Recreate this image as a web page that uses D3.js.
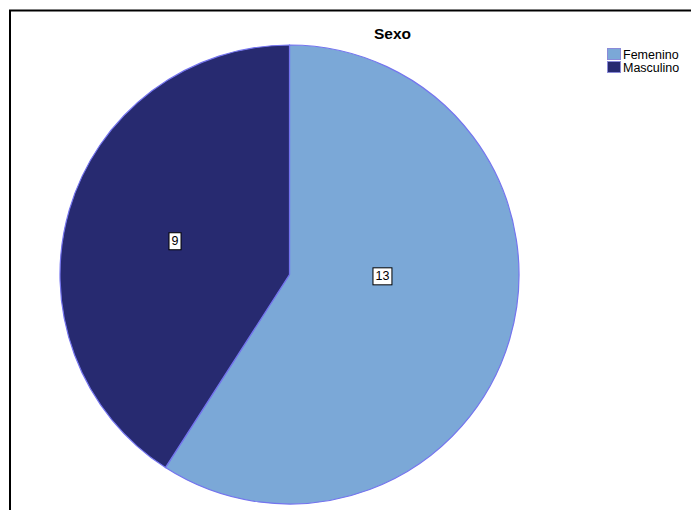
<!DOCTYPE html>
<html>
<head>
<meta charset="utf-8">
<script src="https://cdn.jsdelivr.net/npm/d3@7"></script>
<style>
  html, body { margin: 0; padding: 0; background: #fff; }
  svg { display: block; font-family: "Liberation Sans", Arial, sans-serif; }
</style>
</head>
<body>
<svg id="chart" width="691" height="510"></svg>
<script>
// Sexo: frequency counts per category
const categories = ["Femenino", "Masculino"];
const counts = [13, 9];
const sliceColors = ["#7ba8d7", "#272a70"];
const chartTitle = "Sexo";

const svg = d3.select("#chart");
const W = 691, H = 510;

// outer frame (top and left edges visible, rest runs off the canvas)
svg.append("rect")
  .attr("x", 10).attr("y", 10.5)
  .attr("width", W + 20).attr("height", H + 20)
  .attr("fill", "none").attr("stroke", "#000").attr("stroke-width", 2);

svg.append("text")
  .attr("x", 392.5).attr("y", 38.5)
  .attr("text-anchor", "middle")
  .attr("font-size", 15.5).attr("font-weight", "bold")
  .text(chartTitle);

const cx = 289.5, cy = 274.5, R = 229.5;
const color = d3.scaleOrdinal().domain(categories).range(sliceColors);

const pie = d3.pie().sort(null).value(d => d.value);
const data = categories.map((c, i) => ({ name: c, value: counts[i] }));
const arcs = pie(data);
const arc = d3.arc().innerRadius(0).outerRadius(R);

const g = svg.append("g").attr("transform", `translate(${cx},${cy})`);

g.selectAll("path.slice")
  .data(arcs)
  .join("path")
  .attr("class", "slice")
  .attr("d", arc)
  .attr("fill", d => color(d.data.name))
  .attr("stroke", "#7474ee")
  .attr("stroke-width", 1.2);

// value labels: placed along the slice at a fraction of the radius
const labelPlacement = [
  { angleShift: -0.27, frac: 0.405 },
  { angleShift: 0, frac: 0.52 }
];
const labels = g.selectAll("g.lbl")
  .data(arcs)
  .join("g")
  .attr("class", "lbl")
  .attr("transform", (d, i) => {
    const a = (d.startAngle + d.endAngle) / 2 + labelPlacement[i].angleShift;
    const r = R * labelPlacement[i].frac;
    return `translate(${r * Math.sin(a)},${-r * Math.cos(a)})`;
  });

labels.each(function(d) {
  const el = d3.select(this);
  const t = el.append("text")
    .attr("text-anchor", "middle")
    .attr("dy", "0.35em")
    .attr("font-size", 12.5)
    .attr("fill", "#000")
    .text(d.data.value);
  const bb = t.node().getBBox();
  el.insert("rect", "text")
    .attr("x", bb.x - 2.5).attr("y", bb.y - 1.5)
    .attr("width", bb.width + 5).attr("height", bb.height + 3)
    .attr("fill", "#fff").attr("stroke", "#000").attr("stroke-width", 1);
});

// legend
const legend = svg.append("g").attr("transform", "translate(607,48)");
const items = legend.selectAll("g")
  .data(categories)
  .join("g")
  .attr("transform", (d, i) => `translate(0,${i * 13})`);
items.append("rect")
  .attr("x", 0.5).attr("y", 0.5)
  .attr("width", 13).attr("height", 11)
  .attr("fill", d => color(d))
  .attr("stroke", "#8a8ad8").attr("stroke-width", 1);
items.append("text")
  .attr("x", 16).attr("y", 11)
  .attr("font-size", 12.5)
  .attr("fill", "#000")
  .text(d => d);
</script>
</body>
</html>
